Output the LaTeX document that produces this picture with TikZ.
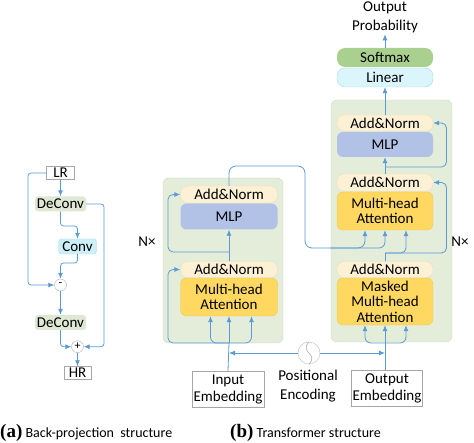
\documentclass[tikz,border=0pt]{standalone}
\usepackage{fontspec}
\setmainfont{Carlito}
\newfontfamily\capfont{Liberation Serif}
\usetikzlibrary{arrows.meta}
\definecolor{linec}{HTML}{5B9BD5}
\definecolor{bggreen}{HTML}{E3EDDA}
\definecolor{bgedge}{HTML}{CCDABF}
\definecolor{anfill}{HTML}{FDF1D5}
\definecolor{anedge}{HTML}{EEDDB5}
\definecolor{mlpfill}{HTML}{B2C2E6}
\definecolor{attfill}{HTML}{FFD862}
\definecolor{attedge}{HTML}{F2C84A}
\definecolor{smfill}{HTML}{A9D08E}
\definecolor{linfill}{HTML}{DAF5FB}
\definecolor{linedge}{HTML}{A9DCEA}
\definecolor{dcfill}{HTML}{DFE8D4}
\definecolor{convfill}{HTML}{CDEFF8}
\tikzset{
  txt/.style={inner sep=0pt, align=center, font=\fontsize{15}{15.5}\selectfont},
  plain/.style={txt, draw=black!35, fill=white},
  andn/.style={txt, fill=anfill, draw=anedge, rounded corners=7pt, minimum width=97pt, minimum height=16pt},
  mlp/.style={txt, fill=mlpfill, rounded corners=6pt, minimum width=97pt},
  att/.style={txt, fill=attfill, draw=attedge, rounded corners=6pt, minimum width=97pt},
  pill/.style={txt, rounded corners=8pt, minimum width=96pt, minimum height=19pt},
  bpbox/.style={txt, rounded corners=3pt, minimum height=15pt},
  opnode/.style={circle, draw=black!30, fill=white, inner sep=0pt, minimum size=12pt, font=\fontsize{12}{12}\selectfont},
  bgbox/.style={fill=bggreen, draw=bgedge, rounded corners=6pt, inner sep=0pt},
  ln/.style={draw=linec, line width=0.8pt},
  arr/.style={ln, -{Latex[length=6pt,width=5pt]}}
}

\begin{document}
\begin{tikzpicture}[x=1pt, y=-1pt]
		%%%%% START %%%%%
		\useasboundingbox (0,0) rectangle (474,443);
		
		% back-projection
		\node[plain, minimum width=28pt, minimum height=13pt] (lr) at (60.5,173) {LR};
		\node[bpbox, fill=dcfill, minimum width=51pt] (dc1) at (60.5,204) {DeConv};
		\node[bpbox, fill=convfill, draw=linedge, minimum width=38pt] (conv) at (77.5,246.5) {Conv};
		\node[opnode] (minus) at (60.5,285) {-};
		\node[bpbox, fill=dcfill, minimum width=51pt] (dc2) at (60.5,322.5) {DeConv};
		\node[opnode] (plus) at (77.5,346.7) {+};
		\node[plain, minimum width=27pt, minimum height=13pt] (hr) at (77.5,373) {HR};
		
		\coordinate (bpL) at (28,0);
		\coordinate (bpR) at (104,0);
		\coordinate (bp1) at (70,226);
		\coordinate (bp2) at (70,263);
		
		\draw[arr] (lr) -- (dc1);
		\draw[arr, rounded corners=3pt] (lr.west) -| (bpL |- minus) -- (minus.west);
		\draw[arr, rounded corners=3pt] (dc1.east) -| (bpR |- plus) -- (plus.east);
		\draw[arr, rounded corners=3pt] (dc1.south) |- (bp1) -| (conv.north);
		\draw[arr, rounded corners=3pt] (conv.south) |- (bp2) -| (minus.north);
		\draw[arr] (minus) -- (dc2);
		\draw[arr, rounded corners=3pt] (dc2.south) |- (plus.west);
		\draw[arr] (plus) -- (hr);
		
		% encoder
		\node[bgbox, minimum width=120pt, minimum height=165pt] (encbg) at (223,260.5) {};
		\node[mlp, minimum height=26pt] (encMLP) at (229,216.5) {MLP};
		\node[andn, minimum height=17pt] (encAN2) at (229,194.5) {Add\&Norm};
		\node[att, minimum height=38pt] (encAtt) at (229,297) {Multi-head\\Attention};
		\node[andn] (encAN1) at (229,269.5) {Add\&Norm};
		\node[plain, minimum width=72pt, minimum height=36pt, font=\fontsize{15}{17}\selectfont] (inEmb) at (228,389) {Input\\Embedding};
		\node[txt] (encN) at (147,242) {N×};
		
		% decoder
		\node[bgbox, minimum width=121pt, minimum height=242pt] (decbg) at (391.5,221) {};
		\node[pill, fill=smfill] (softmax) at (385,57.5) {Softmax};
		\node[pill, fill=linfill, draw=linedge] (linear) at (385,77.5) {Linear};
		\node[mlp, minimum width=96pt, minimum height=25pt] (decMLP) at (385,144.5) {MLP};
		\node[andn, minimum width=96pt] (decAN3) at (385,123) {Add\&Norm};
		\node[att, minimum width=96pt, minimum height=38pt] (decAtt) at (385,211) {Multi-head\\Attention};
		\node[andn, minimum width=96pt, minimum height=17pt] (decAN2) at (385,182.5) {Add\&Norm};
		\node[att, minimum width=96pt, minimum height=47pt] (decMask) at (385,301.5) {Masked\\Multi-head\\Attention};
		\node[andn, minimum width=96pt] (decAN1) at (385,269.5) {Add\&Norm};
		\node[plain, minimum width=71pt, minimum height=36pt, font=\fontsize{15}{17}\selectfont] (outEmb) at (387,388.5) {Output\\Embedding};
		\node[txt, font=\fontsize{15}{19}\selectfont, inner sep=1pt] (outprob) at (385,17.5) {Output\\Probability};
		\node[txt] (decN) at (460,242) {N×};
		
		% positional encoding
		\node[circle, draw=black!25, fill=white, minimum size=22pt, inner sep=0pt] (pe) at (309,353) {};
		\draw[black!30, line width=0.6pt] (pe.north) .. controls ([xshift=-10pt]pe.center) and ([xshift=10pt]pe.center) .. (pe.south);
		\node[txt, font=\fontsize{15}{19}\selectfont] (pelabel) at (308,386.5) {Positional\\Encoding};
		
		\coordinate (encsplit) at (229,343);
		\coordinate (encL) at (168,0);
		\coordinate (encmid) at (229,252);
		\coordinate (encout) at (305,166);
		\coordinate (encbus) at (330,248);
		\coordinate (decsplit) at (385,343);
		\coordinate (decmid) at (385,253);
		\coordinate (decmid2) at (385,167);
		\coordinate (decR) at (446.5,0);
		
		% encoder links
		\draw[ln] (inEmb.north) -- (encsplit);
		\draw[arr] (encsplit) -- (encAtt.south);
		\draw[arr, rounded corners=6pt] (encsplit) -| ([xshift=-18.5pt]encAtt.south);
		\draw[arr, rounded corners=6pt] (encsplit) -| ([xshift=22.5pt]encAtt.south);
		\draw[arr, rounded corners=5pt] (encsplit) -| (encL |- encAN1.west) -- (encAN1.west);
		\draw[ln] (encAN1.north) -- (encmid);
		\draw[arr] (encmid) -- (encMLP.south);
		\draw[arr, rounded corners=5pt] (encmid) -| (encL |- encAN2.west) -- (encAN2.west);
		
		% encoder to decoder
		\draw[arr, rounded corners=7pt] (encAN2.north) |- (encout) |- (encbus) -| ([xshift=-20pt]decAtt.south);
		\draw[arr, rounded corners=6pt] (encbus) -| (decAtt.south);
		
		% decoder links
		\draw[ln] (outEmb.north -| decsplit) -- (decsplit);
		\draw[arr] (decsplit) -- (decMask.south);
		\draw[arr, rounded corners=6pt] (decsplit) -| ([xshift=-20pt]decMask.south);
		\draw[arr, rounded corners=6pt] (decsplit) -| ([xshift=21pt]decMask.south);
		\draw[ln] (decAN1.north) -- (decmid);
		\draw[arr, rounded corners=5pt] (decmid) -| ([xshift=21pt]decAtt.south);
		\draw[arr, rounded corners=5pt] (decmid) -| (decR |- decAN2.east) -- (decAN2.east);
		\draw[ln] (decAN2.north) -- (decmid2);
		\draw[arr] (decmid2) -- (decMLP.south);
		\draw[arr, rounded corners=5pt] (decmid2) -| (decR |- decAN3.east) -- (decAN3.east);
		\draw[arr] (decAN3.north) -- (linear.south);
		\draw[arr] (softmax.north) -- (outprob.south);
		
		% positional encoding links
		\draw[arr] (pe.west) -- (encsplit |- pe.west);
		\draw[arr] (pe.east) -- (decsplit |- pe.east);
		
		% captions
		\node[anchor=west, inner sep=0pt, font=\fontsize{14}{15}\selectfont] (capa) at (0,433) {{\capfont\bfseries\fontsize{19}{19}\selectfont (a)} Back-projection\ \ structure};
		\node[anchor=west, inner sep=0pt, font=\fontsize{14}{15}\selectfont] (capb) at (230,433) {{\capfont\bfseries\fontsize{19}{19}\selectfont (b)} Transformer structure};
		
		%%%%% END %%%%%
	\end{tikzpicture}
\end{document}
